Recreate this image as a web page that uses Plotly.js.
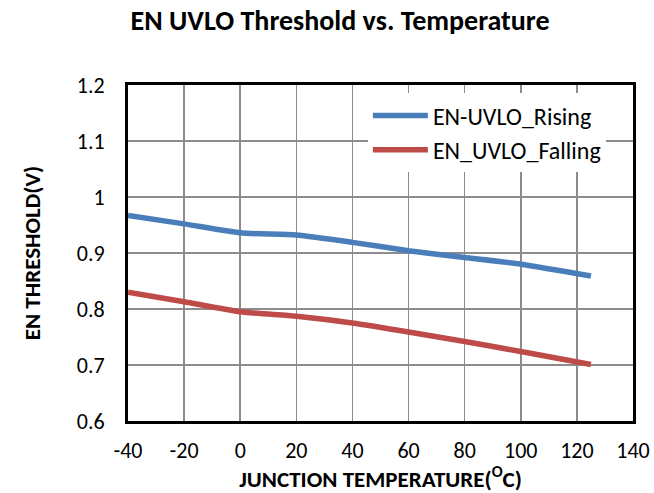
<!DOCTYPE html>
<html>
<head>
<meta charset="utf-8">
<script src="https://cdn.plot.ly/plotly-3.0.1.min.js"></script>
<style>html,body{margin:0;padding:0;background:#fff;}#chart{width:654px;height:493px;}</style>
</head>
<body>
<div id="chart"></div>
<script>
const temperature = [-40, -20, 0, 20, 40, 60, 80, 100, 125];
const risingThreshold = [0.967, 0.952, 0.936, 0.932, 0.919, 0.904, 0.892, 0.880, 0.859];
const fallingThreshold = [0.830, 0.813, 0.795, 0.787, 0.775, 0.759, 0.742, 0.724, 0.701];
const seriesNames = ['EN-UVLO_Rising', 'EN_UVLO_Falling'];
const xTicks = [-40, -20, 0, 20, 40, 60, 80, 100, 120, 140];
const yTicks = [0.6, 0.7, 0.8, 0.9, 1, 1.1, 1.2];
const yTickText = ['0.6', '0.7', '0.8', '0.9', '1', '1.1', '1.2'];

const FONT = "Carlito, 'Open Sans', 'Liberation Sans', sans-serif";

const traces = [
  {x: temperature, y: risingThreshold, name: seriesNames[0], mode: 'lines',
   line: {color: '#4a7ebb', width: 5.5, shape: 'spline', smoothing: 0.6}},
  {x: temperature, y: fallingThreshold, name: seriesNames[1], mode: 'lines',
   line: {color: '#be4b48', width: 5.5, shape: 'spline', smoothing: 0.6}}
];

const layout = {
  width: 654, height: 493,
  margin: {l: 128, r: 21, t: 85, b: 72},
  paper_bgcolor: '#fff', plot_bgcolor: '#fff',
  font: {family: FONT, size: 21, color: '#000'},
  title: {text: '<b>EN UVLO Threshold vs. Temperature</b>', x: 0.52, xanchor: 'center', y: 0.96, yanchor: 'middle',
          font: {family: FONT, size: 28, color: '#000'}},
  xaxis: {
    range: [-40, 140], tickvals: xTicks, ticktext: xTicks.map(String),
    showgrid: true, gridcolor: '#8c8c8c', gridwidth: 1.5,
    showline: true, linecolor: '#000', linewidth: 3, mirror: true,
    zeroline: false, ticks: '', ticklabelstandoff: 8,
    tickfont: {family: FONT, size: 22},
    title: {text: '<b>JUNCTION TEMPERATURE(<sup>O</sup>C)</b>', font: {family: FONT, size: 23}, standoff: 10}
  },
  yaxis: {
    range: [0.6, 1.2], tickvals: yTicks, ticktext: yTickText,
    showgrid: true, gridcolor: '#8c8c8c', gridwidth: 1.5,
    showline: true, linecolor: '#000', linewidth: 3, mirror: true,
    zeroline: false, ticks: '', ticklabelstandoff: 16,
    tickfont: {family: FONT, size: 22},
    title: {text: '<b>EN THRESHOLD(V)</b>', font: {family: FONT, size: 23}, standoff: 30}
  },
  legend: {x: 0.475, y: 0.975, xanchor: 'left', yanchor: 'top', bgcolor: '#fff', borderwidth: 0,
           font: {family: FONT, size: 24}, itemwidth: 55, tracegroupgap: 0},
  showlegend: true
};

Plotly.newPlot('chart', traces, layout, {displayModeBar: false, staticPlot: true});
</script>
</body>
</html>
